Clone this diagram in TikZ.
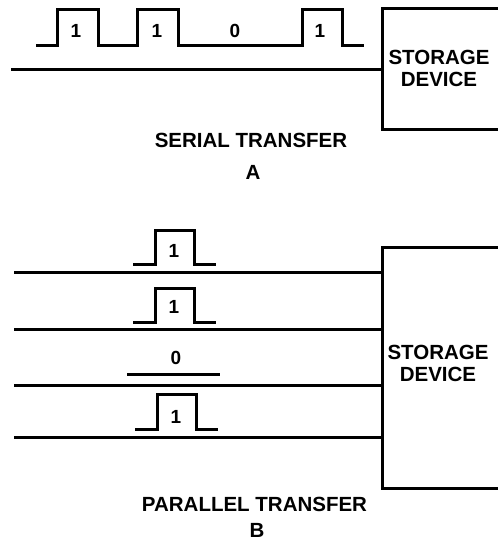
\documentclass[tikz,border=0pt]{standalone}
\usepackage{fontspec}
\setmainfont{Liberation Sans}
\begin{document}
\begin{tikzpicture}[x=1pt,y=-1pt,
  wire/.style={line width=3pt,line cap=rect},
  pulse/.style={line width=3pt,line join=miter},
  box/.style={draw,line width=3pt,inner sep=0pt,anchor=north west},
  lbl/.style={font=\bfseries\fontsize{20.5}{22}\selectfont,inner sep=0pt},
  bit/.style={font=\bfseries\fontsize{19}{21}\selectfont,inner sep=0pt}]
\useasboundingbox (0,0) rectangle (498,544);
% ---------- A: serial ----------
\node[box,minimum width=140pt,minimum height=121pt] (boxA) at (381,7) {};
\node[lbl,align=center] (txtA) at (439,68) {STORAGE\\DEVICE};
\coordinate (sA) at (12,69);
\draw[wire] (sA) -- (boxA.west |- sA);
\draw[pulse] (36,45) -- (57,45) -- (57,9) -- (98,9) -- (98,45) -- (137,45) -- (137,9) -- (178,9) -- (178,45)
  -- (302,45) -- (302,9) -- (342,9) -- (342,45) -- (364,45);
\node[bit] (a1) at (76,31) {1};
\node[bit] (a2) at (157,31) {1};
\node[bit] (a3) at (235,31) {0};
\node[bit] (a4) at (320,31) {1};
\node[lbl] (capA) at (251,140) {SERIAL TRANSFER};
\node[lbl] (letA) at (253,172) {A};
% ---------- B: parallel ----------
\node[box,minimum width=140pt,minimum height=241pt] (boxB) at (381,245.7) {};
\node[lbl,align=center] (txtB) at (438,363) {STORAGE\\DEVICE};
\coordinate (p1) at (15,272.7);
\coordinate (p2) at (15,329);
\coordinate (p3) at (15,385.7);
\coordinate (p4) at (15,437.7);
\foreach \p in {p1,p2,p3,p4} \draw[wire] (\p) -- (boxB.west |- \p);
\draw[pulse] (133,264.3) -- (155,264.3) -- (155,230) -- (194,230) -- (194,264.3) -- (216,264.3);
\draw[pulse] (133,322.3) -- (155,322.3) -- (155,288.3) -- (194,288.3) -- (194,322.3) -- (216,322.3);
\draw[pulse] (127,374) -- (220,374);
\draw[pulse] (135,429.3) -- (157,429.3) -- (157,394) -- (196,394) -- (196,429.3) -- (218,429.3);
\node[bit] (b1) at (174,250.7) {1};
\node[bit] (b2) at (174,307.3) {1};
\node[bit] (b3) at (176,357.7) {0};
\node[bit] (b4) at (176,416.7) {1};
\node[lbl] (capB) at (254.5,504) {PARALLEL TRANSFER};
\node[lbl] (letB) at (257,530) {B};
\end{tikzpicture}
\end{document}
